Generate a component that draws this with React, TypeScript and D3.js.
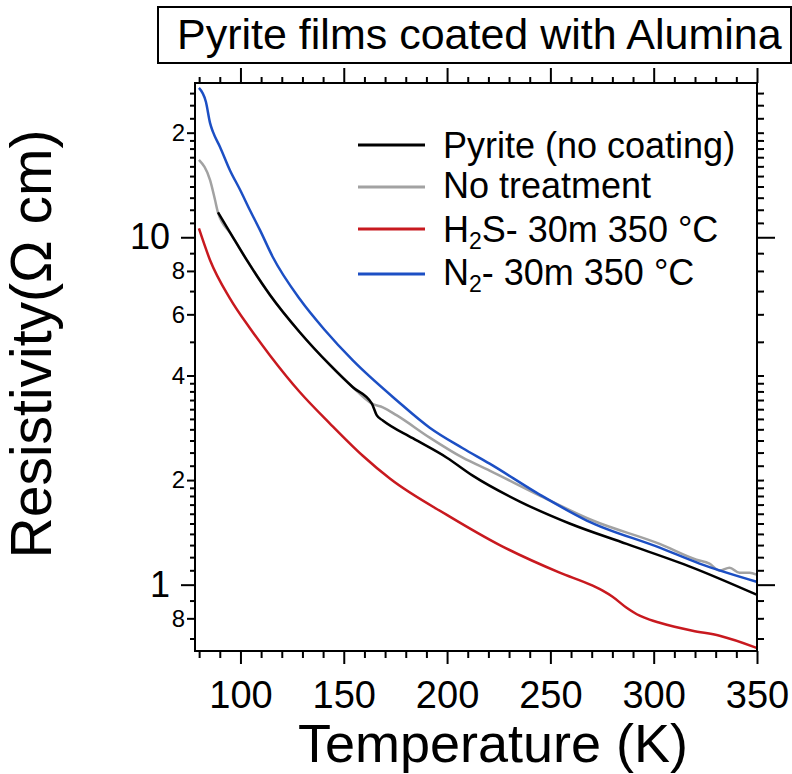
import React from "react";
import * as d3 from "d3";

// [temperature K, resistivity Ω cm]
const pyrite = [
  [89.1, 11.8], [95.5, 10.2], [103.1, 8.59], [114.3, 6.82], [128.8, 5.32], [143.3, 4.29], [154.4, 3.7],
  [163.6, 3.32], [166.0, 3.07], [168.9, 2.97], [183.4, 2.64], [199.9, 2.32], [212.4, 2.06],
  [235.2, 1.735], [259.3, 1.5], [286.9, 1.31], [318.8, 1.12], [349.8, 0.936],
];
const noTreatment = [
  [79.9, 16.7], [85.3, 14.6], [87.7, 12.8], [89.1, 11.8], [95.5, 10.2], [103.1, 8.59], [114.3, 6.82],
  [128.8, 5.32], [143.3, 4.29], [154.4, 3.7], [163.6, 3.32], [168.9, 3.24], [175.7, 3.07],
  [191.6, 2.65], [207.6, 2.32], [220.6, 2.13], [244.8, 1.805], [270.5, 1.53], [302.9, 1.31],
  [320.7, 1.18], [327.0, 1.149], [331.9, 1.097], [336.7, 1.119], [341.5, 1.083], [346.4, 1.083],
  [349.8, 1.069],
];
const h2s = [
  [79.9, 10.6], [85.3, 8.59], [94.9, 6.67], [104.6, 5.47], [114.3, 4.57], [128.8, 3.58],
  [143.3, 2.91], [159.2, 2.35], [172.3, 2.02], [201.3, 1.57], [225.5, 1.3], [254.5, 1.083],
  [270.5, 0.993], [275.3, 0.961], [280.1, 0.923], [286.9, 0.858], [293.2, 0.814], [298.0, 0.793],
  [302.9, 0.777], [318.8, 0.737], [331.9, 0.713], [349.8, 0.658],
];
const n2 = [
  [79.9, 26.9], [83.3, 24.5], [85.3, 21.3], [86.7, 20.1], [90.1, 18.2], [94.9, 15.6],
  [99.8, 13.7], [104.6, 11.96], [109.4, 10.5], [115.7, 8.76], [128.8, 6.63], [140.9, 5.4],
  [154.4, 4.42], [175.7, 3.39], [191.6, 2.83], [207.6, 2.47], [220.6, 2.23], [244.8, 1.817],
  [267.6, 1.53], [302.9, 1.278], [322.2, 1.15], [349.8, 1.02],
];

const seriesData = [pyrite, noTreatment, h2s, n2];
const seriesColors = ["#000000", "#a2a2a2", "#c8191f", "#1c4fc4"];
const drawOrder = [1, 0, 2, 3];

const xMajorTicks = [100, 150, 200, 250, 300, 350];
const xMinorTicks = [80, 90, 110, 120, 130, 140, 160, 170, 180, 190, 210, 220, 230, 240, 260, 270, 280, 290, 310, 320, 330, 340];
const yDecadeTicks = [1, 10];
const yLabeledTicks = [0.8, 2, 4, 6, 8, 20];
const yMinorTicks = [
  0.7, 0.9, 1.1, 1.2, 1.3, 1.4, 1.5, 1.6, 1.7, 1.8, 1.9, 2.2, 2.4, 2.6, 2.8, 3, 3.2, 3.4, 3.6, 3.8,
  5, 7, 9, 11, 12, 13, 14, 15, 16, 17, 18, 19, 22, 24, 26,
];

const font = "'Liberation Sans', Arial, Helvetica, sans-serif";

export default function App() {
  const svgRef = React.useRef<SVGSVGElement>(null);
  const width = 792;
  const height = 774;

  React.useEffect(() => {
    const svg = d3.select(svgRef.current);
    svg.selectAll("*").remove();

    const x = d3.scaleLinear().domain([78, 350]).range([195, 757]);
    const y = d3.scaleLog().domain([0.64, 27.8]).range([652, 83]);

    // title box
    svg.append("rect")
      .attr("x", 158).attr("y", 7).attr("width", 633).attr("height", 56)
      .attr("fill", "none").attr("stroke", "#000").attr("stroke-width", 2);
    svg.append("text")
      .attr("x", 177).attr("y", 49)
      .attr("font-family", font).attr("font-size", 43)
      .text("Pyrite films coated with Alumina");

    const drawAxis = (axis: any, tx: number, ty: number, fontSize: number) => {
      const g = svg.append("g")
        .attr("transform", `translate(${tx},${ty})`)
        .call(axis);
      g.select(".domain").remove();
      g.selectAll("line").attr("stroke", "#000").attr("stroke-width", 2);
      g.selectAll("text").attr("font-family", font).attr("font-size", fontSize).attr("fill", "#000");
      return g;
    };
    const noLabel = () => "";

    // bottom
    drawAxis(d3.axisBottom(x).tickValues(xMajorTicks).tickSize(13).tickPadding(17).tickFormat(d3.format("d")), 0, 651, 38);
    drawAxis(d3.axisBottom(x).tickValues(xMinorTicks).tickSize(7).tickFormat(noLabel), 0, 651, 10);
    // top
    drawAxis(d3.axisTop(x).tickValues(xMajorTicks).tickSize(15).tickFormat(noLabel), 0, 83, 10);
    drawAxis(d3.axisTop(x).tickValues(xMinorTicks).tickSize(6).tickFormat(noLabel), 0, 83, 10);
    // left
    drawAxis(d3.axisLeft(y).tickValues(yDecadeTicks).tickSize(14).tickPadding(11).tickFormat(d3.format("d")), 195, 0, 36);
    drawAxis(d3.axisLeft(y).tickValues(yLabeledTicks).tickSize(8).tickPadding(2)
      .tickFormat((d: any) => String(Math.round(d < 1 ? d * 10 : d >= 10 ? d / 10 : d))), 195, 0, 24);
    drawAxis(d3.axisLeft(y).tickValues(yMinorTicks).tickSize(5).tickFormat(noLabel), 195, 0, 10);
    // right
    drawAxis(d3.axisRight(y).tickValues(yDecadeTicks).tickSize(18).tickFormat(noLabel), 757, 0, 10);
    drawAxis(d3.axisRight(y).tickValues([...yLabeledTicks, ...yMinorTicks]).tickSize(7).tickFormat(noLabel), 757, 0, 10);

    // lines
    const line = d3.line<number[]>()
      .x(d => x(d[0]))
      .y(d => y(d[1]))
      .curve(d3.curveMonotoneX);
    const lines = svg.append("g").attr("class", "lines");
    drawOrder.forEach(i => {
      lines.append("path")
        .attr("d", line(seriesData[i]) as string)
        .attr("fill", "none")
        .attr("stroke", seriesColors[i])
        .attr("stroke-width", 2.5)
        .attr("stroke-linejoin", "round");
    });

    // frame
    svg.append("rect")
      .attr("x", 195).attr("y", 83).attr("width", 562).attr("height", 568)
      .attr("fill", "none").attr("stroke", "#000").attr("stroke-width", 2);

    // legend
    const legendLineY = [145, 187, 229, 274];
    const legendBase = [158, 198, 242, 285];
    const legend = svg.append("g").attr("font-family", font).attr("font-size", 36);
    legendLineY.forEach((ly, i) => {
      legend.append("line")
        .attr("x1", 358).attr("x2", 425).attr("y1", ly).attr("y2", ly)
        .attr("stroke", seriesColors[i]).attr("stroke-width", 3);
    });
    legend.append("text").attr("x", 443).attr("y", legendBase[0]).text("Pyrite (no coating)");
    legend.append("text").attr("x", 443).attr("y", legendBase[1]).text("No treatment");
    const h = legend.append("text").attr("x", 443).attr("y", legendBase[2]);
    h.append("tspan").text("H");
    h.append("tspan").attr("font-size", 23).attr("dy", 7).text("2");
    h.append("tspan").attr("dy", -7).text("S- 30m 350 °C");
    const n = legend.append("text").attr("x", 443).attr("y", legendBase[3]);
    n.append("tspan").text("N");
    n.append("tspan").attr("font-size", 23).attr("dy", 7).text("2");
    n.append("tspan").attr("dy", -7).text("- 30m 350 °C");

    // axis titles
    svg.append("text")
      .attr("x", 493).attr("y", 762)
      .attr("text-anchor", "middle")
      .attr("font-family", font).attr("font-size", 54)
      .text("Temperature (K)");
    svg.append("text")
      .attr("transform", "translate(51,344) rotate(-90)")
      .attr("text-anchor", "middle")
      .attr("font-family", font).attr("font-size", 57)
      .text("Resistivity(Ω cm)");
  }, []);

  return (
    <svg ref={svgRef} width={width} height={height}
      style={{ position: "absolute", left: 0, top: 0, background: "#fff" }} />
  );
}
